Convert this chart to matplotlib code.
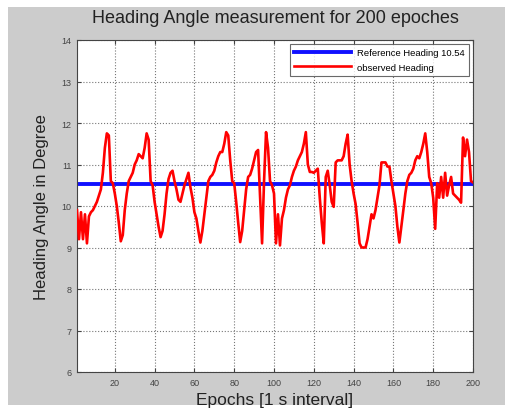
import numpy as np
import matplotlib
matplotlib.use("Agg")
import matplotlib.pyplot as plt
from matplotlib.patches import Rectangle

plt.rcParams['font.family'] = ['Liberation Sans', 'DejaVu Sans']

epochs = list(range(1, 201))
observed = [
    9.9, 9.2, 9.85, 9.2, 9.8, 9.1, 9.75, 9.85, 9.9, 10.0,
    10.1, 10.25, 10.4, 10.8, 11.4, 11.75, 11.7, 10.6, 10.55, 10.3,
    10.0, 9.6, 9.15, 9.3, 9.9, 10.3, 10.6, 10.7, 10.8, 11.0,
    11.1, 11.25, 11.2, 11.15, 11.4, 11.75, 11.6, 10.6, 10.5, 10.1,
    9.8, 9.5, 9.25, 9.4, 9.8, 10.3, 10.65, 10.8, 10.85, 10.6,
    10.4, 10.15, 10.1, 10.3, 10.5, 10.65, 10.8, 10.45, 10.2, 9.85,
    9.7, 9.4, 9.12, 9.4, 9.8, 10.2, 10.6, 10.7, 10.75, 10.85,
    11.05, 11.2, 11.3, 11.3, 11.5, 11.78, 11.7, 11.1, 10.6, 10.55,
    10.1, 9.6, 9.13, 9.4, 9.9, 10.4, 10.7, 10.75, 10.9, 11.1,
    11.3, 11.35, 10.2, 9.1, 10.6, 11.78, 11.4, 10.6, 10.5, 10.3,
    9.1, 9.8, 9.05, 9.7, 9.9, 10.2, 10.4, 10.5, 10.7, 10.85,
    10.95, 11.1, 11.2, 11.3, 11.5, 11.78, 11.0, 10.82, 10.82, 10.8,
    10.85, 10.9, 10.2, 9.6, 9.1, 10.7, 10.85, 10.5, 10.1, 9.98,
    11.05, 11.1, 11.1, 11.1, 11.2, 11.5, 11.72, 11.0, 10.6, 10.3,
    10.05, 9.6, 9.1, 9.0, 9.0, 9.0, 9.2, 9.5, 9.8, 9.7,
    9.9, 10.2, 10.5, 11.05, 11.05, 11.05, 10.95, 10.95, 10.6, 10.3,
    10.0, 9.5, 9.12, 9.5, 9.9, 10.3, 10.6, 10.75, 10.8, 10.9,
    11.1, 11.2, 11.15, 11.3, 11.5, 11.75, 11.3, 10.7, 10.55, 10.2,
    9.45, 10.55, 10.2, 10.7, 10.2, 10.8, 10.25, 10.5, 10.7, 10.3,
    10.25, 10.2, 10.15, 10.08, 11.65, 11.2, 11.6, 11.3, 10.6, 10.57,
]
reference_value = 10.54
xticks = [20, 40, 60, 80, 100, 120, 140, 160, 180, 200]
yticks = [6, 7, 8, 9, 10, 11, 12, 13, 14]

fig = plt.figure(figsize=(5.11, 4.14), dpi=100)
fig.patch.set_facecolor('white')
fig.patches.append(Rectangle((8/511, 8/414), 1 - 14/511, 1 - 16/414,
                             transform=fig.transFigure, facecolor='#cccccc',
                             edgecolor='none', zorder=-10))

ax = fig.add_axes([77/511, 41/414, 396/511, 332/414])
ax.set_facecolor('white')
ax.plot([1, 200], [reference_value, reference_value], color='#1010ff', lw=2.8,
        label='Reference Heading 10.54', zorder=2)
ax.plot(epochs, observed, color='#ff0000', lw=1.9, label='observed Heading', zorder=3)

ax.set_xlim(1, 200)
ax.set_ylim(6, 14)
ax.set_xticks(xticks)
ax.set_yticks(yticks)
ax.tick_params(direction='in', labelsize=6.5, colors='#444444', length=3,
               top=True, right=True, pad=4)
ax.grid(True, linestyle=':', color='#777777', lw=0.8)
for s in ax.spines.values():
    s.set_color('#444444')
    s.set_linewidth(0.8)

ax.set_title('Heading Angle measurement for 200 epoches', fontsize=13,
             color='#222222', pad=13)
ax.set_xlabel('Epochs [1 s interval]', fontsize=12.5, color='#222222', labelpad=4)
ax.set_ylabel('Heading Angle in Degree', fontsize=12, color='#222222', labelpad=9)

leg = ax.legend(loc='upper right', fontsize=6.8, frameon=True, fancybox=False,
                edgecolor='#444444', borderaxespad=0.4, handlelength=6.0,
                labelspacing=0.55, borderpad=0.5, handletextpad=0.6)
leg.get_frame().set_linewidth(0.8)

fig.savefig('out.png', dpi=100, facecolor=fig.get_facecolor())
